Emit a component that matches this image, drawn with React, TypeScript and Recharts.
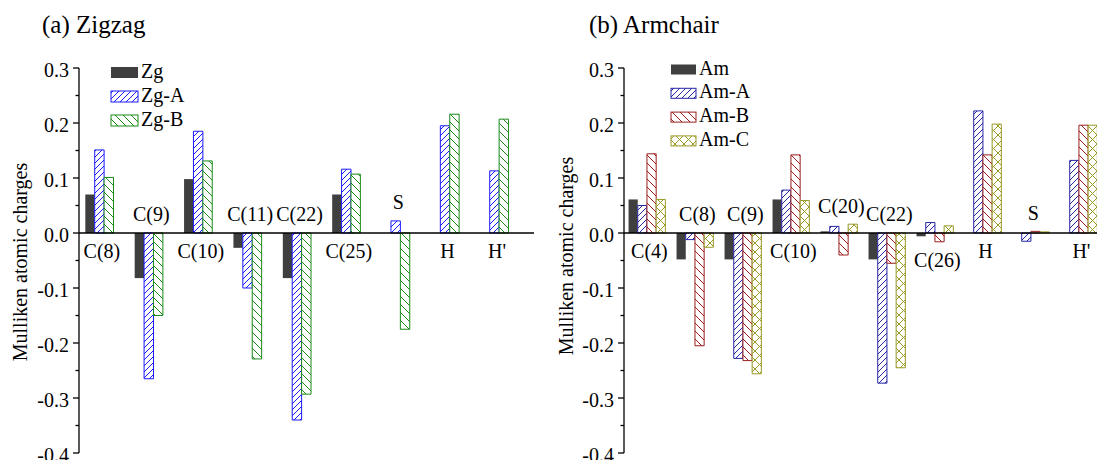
import React from 'react';
import { BarChart, Bar, XAxis, YAxis, ReferenceLine, ReferenceDot } from 'recharts';

const FONT = "'Liberation Serif', 'Times New Roman', serif";

// (a) Zigzag
const zgAtoms = ['C(8)', 'C(9)', 'C(10)', 'C(11)', 'C(22)', 'C(25)', 'S', 'H', "H'"];
const zgVals = [0.07, -0.082, 0.098, -0.027, -0.082, 0.07, null, null, null];
const zgAVals = [0.151, -0.265, 0.185, -0.1, -0.34, 0.116, 0.022, 0.195, 0.113];
const zgBVals = [0.101, -0.15, 0.131, -0.229, -0.293, 0.107, -0.175, 0.216, 0.207];

// (b) Armchair
const amAtoms = ['C(4)', 'C(8)', 'C(9)', 'C(10)', 'C(20)', 'C(22)', 'C(26)', 'H', 'S', "H'"];
const amVals = [0.061, -0.048, -0.048, 0.061, 0.003, -0.048, -0.006, null, null, null];
const amAVals = [0.05, -0.012, -0.228, 0.078, 0.012, -0.273, 0.019, 0.222, -0.015, 0.132];
const amBVals = [0.144, -0.205, -0.232, 0.142, -0.04, -0.055, -0.016, 0.142, 0.003, 0.196];
const amCVals = [0.061, -0.026, -0.256, 0.059, 0.016, -0.245, 0.013, 0.198, 0.002, 0.196];

const yTicks = [-0.4, -0.35, -0.3, -0.25, -0.2, -0.15, -0.1, -0.05, 0, 0.05, 0.1, 0.15, 0.2, 0.25, 0.3];

type Series = { key: string; name: string; fill: string; stroke: string };

const zgSeries: Series[] = [
  { key: 'Zg', name: 'Zg', fill: '#3f3f3f', stroke: 'none' },
  { key: 'ZgA', name: 'Zg-A', fill: 'url(#hatchBlue)', stroke: '#1a1aff' },
  { key: 'ZgB', name: 'Zg-B', fill: 'url(#hatchGreen)', stroke: '#1a8a1a' },
];

const amSeries: Series[] = [
  { key: 'Am', name: 'Am', fill: '#3f3f3f', stroke: 'none' },
  { key: 'AmA', name: 'Am-A', fill: 'url(#hatchNavy)', stroke: '#2626a6' },
  { key: 'AmB', name: 'Am-B', fill: 'url(#hatchRed)', stroke: '#9a1e1e' },
  { key: 'AmC', name: 'Am-C', fill: 'url(#hatchOlive)', stroke: '#999926' },
];

const zgRows = zgAtoms.map((atom, i) => ({ idx: i + 1, atom, Zg: zgVals[i], ZgA: zgAVals[i], ZgB: zgBVals[i] }));
const amRows = amAtoms.map((atom, i) => ({
  idx: i + 1, atom, Am: amVals[i], AmA: amAVals[i], AmB: amBVals[i], AmC: amCVals[i],
}));

const slash = (s: number) =>
  `M0,${s} L${s},0 M${-s / 4},${s / 4} L${s / 4},${-s / 4} M${(s * 3) / 4},${(s * 5) / 4} L${(s * 5) / 4},${(s * 3) / 4}`;
const back = (s: number) =>
  `M0,0 L${s},${s} M${-s / 4},${(s * 3) / 4} L${s / 4},${(s * 5) / 4} M${(s * 3) / 4},${-s / 4} L${(s * 5) / 4},${s / 4}`;

const Patterns = () => (
  <svg width={0} height={0} style={{ position: 'absolute' }}>
    <defs>
      <pattern id="hatchBlue" patternUnits="userSpaceOnUse" width={6} height={6}>
        <rect width={6} height={6} fill="#fff" />
        <path d={slash(6)} stroke="#1a1aff" strokeWidth={1} />
      </pattern>
      <pattern id="hatchGreen" patternUnits="userSpaceOnUse" width={8} height={8}>
        <rect width={8} height={8} fill="#fff" />
        <path d={back(8)} stroke="#1a8a1a" strokeWidth={1} />
      </pattern>
      <pattern id="hatchNavy" patternUnits="userSpaceOnUse" width={6} height={6}>
        <rect width={6} height={6} fill="#fff" />
        <path d={slash(6)} stroke="#2626a6" strokeWidth={1} />
      </pattern>
      <pattern id="hatchRed" patternUnits="userSpaceOnUse" width={8} height={8}>
        <rect width={8} height={8} fill="#fff" />
        <path d={back(8)} stroke="#9a1e1e" strokeWidth={1} />
      </pattern>
      <pattern id="hatchOlive" patternUnits="userSpaceOnUse" width={9} height={9}>
        <rect width={9} height={9} fill="#fff" />
        <path d={slash(9) + ' ' + back(9)} stroke="#999926" strokeWidth={1} />
      </pattern>
    </defs>
  </svg>
);

const YTick = (props: any) => {
  const { x, y, payload } = props;
  const v = payload.value as number;
  const major = Math.abs(v * 10 - Math.round(v * 10)) < 1e-6;
  return (
    <g>
      <line x1={x - (major ? 6 : 3.5)} x2={x} y1={y} y2={y} stroke="#000" strokeWidth={1.3} />
      {major && (
        <text x={x - 10} y={y + 2} textAnchor="end" dominantBaseline="central" fontFamily={FONT} fontSize={20} fill="#000">
          {v.toFixed(1)}
        </text>
      )}
    </g>
  );
};

// atom label sits above the group when its charges are mostly negative, below otherwise
const labelY = (row: any, series: Series[]) => {
  const vals = series.map((s) => row[s.key]).filter((v) => v != null) as number[];
  const sum = vals.reduce((a, b) => a + b, 0);
  return sum < 0 ? Math.max(0, ...vals) + 0.034 : Math.min(0, ...vals) - 0.033;
};

type PanelProps = {
  rows: any[];
  series: Series[];
  width: number;
  axisWidth: number;
  domain: [number, number];
  barSize: number;
  right: number;
};

const Panel = ({ rows, series, width, axisWidth, domain, barSize, right }: PanelProps) => (
  <BarChart width={width} height={460} data={rows} margin={{ top: 68, right, bottom: 7, left: 0 }} barGap={0}>
    <XAxis type="number" dataKey="idx" domain={domain} ticks={rows.map((r) => r.idx)} hide allowDataOverflow />
    <YAxis
      type="number"
      domain={[-0.4, 0.3]}
      ticks={yTicks}
      interval={0}
      width={axisWidth}
      tickSize={0}
      tickMargin={0}
      tickLine={false}
      tick={<YTick />}
      axisLine={{ stroke: '#000', strokeWidth: 1.3 }}
      allowDataOverflow
    />
    {series.map((s) => (
      <Bar
        key={s.key}
        dataKey={s.key}
        name={s.name}
        fill={s.fill}
        stroke={s.stroke}
        strokeWidth={1}
        barSize={barSize}
        isAnimationActive={false}
      />
    ))}
    <ReferenceLine y={0} stroke="#000" strokeWidth={1.3} />
    {rows.map((r) => (
      <ReferenceDot
        key={r.atom}
        x={r.idx + 0.06}
        y={labelY(r, series)}
        r={0}
        fill="none"
        stroke="none"
        label={{ value: r.atom, position: 'center', fontFamily: FONT, fontSize: 20, fill: '#000' }}
      />
    ))}
  </BarChart>
);

const LegendBox = ({ series, x, y0, step, w, h }: { series: Series[]; x: number; y0: number; step: number; w: number; h: number }) => (
  <g>
    {series.map((s, i) => {
      const cy = y0 + i * step;
      return (
        <g key={s.key}>
          <rect x={x} y={cy - h / 2} width={w} height={h} fill={s.fill} stroke={s.stroke === 'none' ? 'none' : s.stroke} strokeWidth={1} />
          <text x={x + w + 3} y={cy + 5} fontFamily={FONT} fontSize={20} fill="#000">
            {s.name}
          </text>
        </g>
      );
    })}
  </g>
);

export default function App() {
  return (
    <div style={{ position: 'absolute', left: 0, top: 0, width: 1097, height: 460, background: '#fff', overflow: 'hidden' }}>
      <Patterns />
      <div style={{ position: 'absolute', left: 0, top: 0 }}>
        <Panel rows={zgRows} series={zgSeries} width={548} axisWidth={79} domain={[0.595, 9.81]} barSize={9.4} right={14} />
      </div>
      <div style={{ position: 'absolute', left: 548, top: 0 }}>
        <Panel rows={amRows} series={amSeries} width={549} axisWidth={76} domain={[0.53, 10.385]} barSize={9.2} right={0} />
      </div>
      <svg width={1097} height={460} style={{ position: 'absolute', left: 0, top: 0, pointerEvents: 'none' }}>
        <text x={42} y={33} fontFamily={FONT} fontSize={25} fill="#000">(a) Zigzag</text>
        <text x={589} y={33} fontFamily={FONT} fontSize={25} fill="#000">(b) Armchair</text>
        <text
          x={20}
          y={262}
          transform="rotate(-90 20 262)"
          textAnchor="middle"
          dominantBaseline="central"
          fontFamily={FONT}
          fontSize={20}
          fill="#000"
        >
          Mulliken atomic charges
        </text>
        <text
          x={566}
          y={256}
          transform="rotate(-90 566 256)"
          textAnchor="middle"
          dominantBaseline="central"
          fontFamily={FONT}
          fontSize={20}
          fill="#000"
        >
          Mulliken atomic charges
        </text>
        <LegendBox series={zgSeries} x={111} y0={72.5} step={24} w={27} h={11} />
        <LegendBox series={amSeries} x={671} y0={69.5} step={23.8} w={25} h={10} />
      </svg>
    </div>
  );
}
